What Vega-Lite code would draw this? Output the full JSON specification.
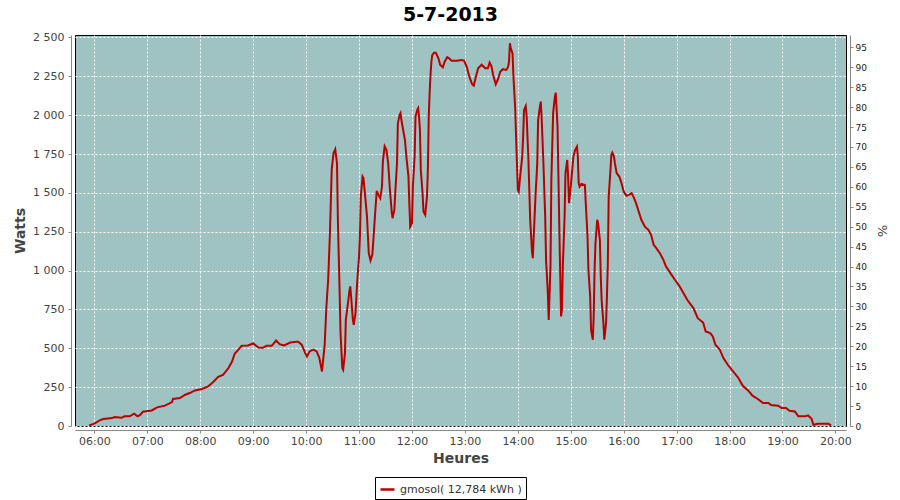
{
  "$schema": "https://vega.github.io/schema/vega-lite/v6.json",
  "width": 771,
  "height": 391,
  "autosize": "none",
  "padding": {"left": 75, "top": 35, "right": 54, "bottom": 74},
  "background": "white",
  "config": {
    "view": {"fill": "#9fc3c2", "stroke": "black", "strokeWidth": 1},
    "font": "DejaVu Sans"
  },
  "title": {"text": "5-7-2013", "font": "DejaVu Sans", "fontSize": 19, "fontWeight": "bold", "color": "black", "anchor": "middle", "offset": 6, "dx": -10},
  "layer": [
    {
      "data": {
        "values": [
          {"t": "2013-07-05T05:54", "w": 4}, {"t": "2013-07-05T06:00", "w": 15}, {"t": "2013-07-05T06:06", "w": 36}, {"t": "2013-07-05T06:10", "w": 45},
          {"t": "2013-07-05T06:20", "w": 51}, {"t": "2013-07-05T06:23", "w": 58}, {"t": "2013-07-05T06:31", "w": 53}, {"t": "2013-07-05T06:34", "w": 62},
          {"t": "2013-07-05T06:40", "w": 62}, {"t": "2013-07-05T06:45", "w": 79}, {"t": "2013-07-05T06:49", "w": 62}, {"t": "2013-07-05T06:52", "w": 71},
          {"t": "2013-07-05T06:55", "w": 92}, {"t": "2013-07-05T07:05", "w": 100}, {"t": "2013-07-05T07:11", "w": 120}, {"t": "2013-07-05T07:20", "w": 131},
          {"t": "2013-07-05T07:28", "w": 154}, {"t": "2013-07-05T07:29", "w": 174}, {"t": "2013-07-05T07:37", "w": 180}, {"t": "2013-07-05T07:43", "w": 201},
          {"t": "2013-07-05T07:48", "w": 212}, {"t": "2013-07-05T07:54", "w": 229}, {"t": "2013-07-05T08:02", "w": 238}, {"t": "2013-07-05T08:09", "w": 255},
          {"t": "2013-07-05T08:15", "w": 285}, {"t": "2013-07-05T08:20", "w": 315}, {"t": "2013-07-05T08:26", "w": 330}, {"t": "2013-07-05T08:32", "w": 373},
          {"t": "2013-07-05T08:36", "w": 415}, {"t": "2013-07-05T08:39", "w": 465}, {"t": "2013-07-05T08:43", "w": 490}, {"t": "2013-07-05T08:47", "w": 516},
          {"t": "2013-07-05T08:54", "w": 518}, {"t": "2013-07-05T09:00", "w": 531}, {"t": "2013-07-05T09:06", "w": 505}, {"t": "2013-07-05T09:11", "w": 503},
          {"t": "2013-07-05T09:15", "w": 516}, {"t": "2013-07-05T09:21", "w": 516}, {"t": "2013-07-05T09:26", "w": 550}, {"t": "2013-07-05T09:30", "w": 527},
          {"t": "2013-07-05T09:35", "w": 518}, {"t": "2013-07-05T09:42", "w": 537}, {"t": "2013-07-05T09:49", "w": 542}, {"t": "2013-07-05T09:51", "w": 542},
          {"t": "2013-07-05T09:55", "w": 523}, {"t": "2013-07-05T09:59", "w": 469}, {"t": "2013-07-05T10:01", "w": 448}, {"t": "2013-07-05T10:04", "w": 480},
          {"t": "2013-07-05T10:08", "w": 491}, {"t": "2013-07-05T10:12", "w": 480}, {"t": "2013-07-05T10:15", "w": 437}, {"t": "2013-07-05T10:18", "w": 351},
          {"t": "2013-07-05T10:21", "w": 520}, {"t": "2013-07-05T10:23", "w": 769}, {"t": "2013-07-05T10:25", "w": 941}, {"t": "2013-07-05T10:27", "w": 1241},
          {"t": "2013-07-05T10:29", "w": 1648}, {"t": "2013-07-05T10:31", "w": 1755}, {"t": "2013-07-05T10:33", "w": 1781}, {"t": "2013-07-05T10:35", "w": 1691},
          {"t": "2013-07-05T10:36", "w": 1327}, {"t": "2013-07-05T10:38", "w": 855}, {"t": "2013-07-05T10:39", "w": 598}, {"t": "2013-07-05T10:41", "w": 373},
          {"t": "2013-07-05T10:42", "w": 362}, {"t": "2013-07-05T10:44", "w": 469}, {"t": "2013-07-05T10:45", "w": 683}, {"t": "2013-07-05T10:47", "w": 769},
          {"t": "2013-07-05T10:49", "w": 866}, {"t": "2013-07-05T10:50", "w": 898}, {"t": "2013-07-05T10:51", "w": 833}, {"t": "2013-07-05T10:53", "w": 683},
          {"t": "2013-07-05T10:54", "w": 651}, {"t": "2013-07-05T10:56", "w": 727}, {"t": "2013-07-05T10:58", "w": 941}, {"t": "2013-07-05T11:00", "w": 1091},
          {"t": "2013-07-05T11:01", "w": 1219}, {"t": "2013-07-05T11:02", "w": 1476}, {"t": "2013-07-05T11:04", "w": 1605}, {"t": "2013-07-05T11:05", "w": 1595},
          {"t": "2013-07-05T11:07", "w": 1476}, {"t": "2013-07-05T11:09", "w": 1348}, {"t": "2013-07-05T11:11", "w": 1112}, {"t": "2013-07-05T11:13", "w": 1065},
          {"t": "2013-07-05T11:15", "w": 1101}, {"t": "2013-07-05T11:16", "w": 1177}, {"t": "2013-07-05T11:18", "w": 1348}, {"t": "2013-07-05T11:20", "w": 1512},
          {"t": "2013-07-05T11:22", "w": 1487}, {"t": "2013-07-05T11:24", "w": 1466}, {"t": "2013-07-05T11:26", "w": 1541}, {"t": "2013-07-05T11:27", "w": 1701},
          {"t": "2013-07-05T11:29", "w": 1800}, {"t": "2013-07-05T11:31", "w": 1777}, {"t": "2013-07-05T11:33", "w": 1691}, {"t": "2013-07-05T11:35", "w": 1519},
          {"t": "2013-07-05T11:37", "w": 1380}, {"t": "2013-07-05T11:38", "w": 1337}, {"t": "2013-07-05T11:40", "w": 1391}, {"t": "2013-07-05T11:41", "w": 1498},
          {"t": "2013-07-05T11:43", "w": 1691}, {"t": "2013-07-05T11:44", "w": 1948}, {"t": "2013-07-05T11:46", "w": 2002}, {"t": "2013-07-05T11:47", "w": 2013},
          {"t": "2013-07-05T11:48", "w": 1969}, {"t": "2013-07-05T11:50", "w": 1905}, {"t": "2013-07-05T11:52", "w": 1841}, {"t": "2013-07-05T11:54", "w": 1712},
          {"t": "2013-07-05T11:56", "w": 1605}, {"t": "2013-07-05T11:57", "w": 1434}, {"t": "2013-07-05T11:58", "w": 1283}, {"t": "2013-07-05T12:00", "w": 1305},
          {"t": "2013-07-05T12:01", "w": 1541}, {"t": "2013-07-05T12:03", "w": 1734}, {"t": "2013-07-05T12:04", "w": 1991}, {"t": "2013-07-05T12:06", "w": 2034},
          {"t": "2013-07-05T12:07", "w": 2045}, {"t": "2013-07-05T12:08", "w": 1991}, {"t": "2013-07-05T12:09", "w": 1905}, {"t": "2013-07-05T12:10", "w": 1648},
          {"t": "2013-07-05T12:12", "w": 1498}, {"t": "2013-07-05T12:13", "w": 1380}, {"t": "2013-07-05T12:15", "w": 1359}, {"t": "2013-07-05T12:17", "w": 1476},
          {"t": "2013-07-05T12:18", "w": 1648}, {"t": "2013-07-05T12:19", "w": 1991}, {"t": "2013-07-05T12:20", "w": 2141}, {"t": "2013-07-05T12:21", "w": 2259},
          {"t": "2013-07-05T12:22", "w": 2344}, {"t": "2013-07-05T12:23", "w": 2387}, {"t": "2013-07-05T12:25", "w": 2402}, {"t": "2013-07-05T12:27", "w": 2402},
          {"t": "2013-07-05T12:30", "w": 2366}, {"t": "2013-07-05T12:32", "w": 2323}, {"t": "2013-07-05T12:35", "w": 2308}, {"t": "2013-07-05T12:37", "w": 2344},
          {"t": "2013-07-05T12:40", "w": 2373}, {"t": "2013-07-05T12:42", "w": 2366}, {"t": "2013-07-05T12:45", "w": 2351}, {"t": "2013-07-05T12:51", "w": 2351},
          {"t": "2013-07-05T12:56", "w": 2355}, {"t": "2013-07-05T12:59", "w": 2351}, {"t": "2013-07-05T13:02", "w": 2312}, {"t": "2013-07-05T13:05", "w": 2248},
          {"t": "2013-07-05T13:08", "w": 2201}, {"t": "2013-07-05T13:10", "w": 2190}, {"t": "2013-07-05T13:12", "w": 2238}, {"t": "2013-07-05T13:15", "w": 2302},
          {"t": "2013-07-05T13:19", "w": 2325}, {"t": "2013-07-05T13:23", "w": 2302}, {"t": "2013-07-05T13:26", "w": 2302}, {"t": "2013-07-05T13:28", "w": 2338},
          {"t": "2013-07-05T13:30", "w": 2317}, {"t": "2013-07-05T13:32", "w": 2259}, {"t": "2013-07-05T13:35", "w": 2199}, {"t": "2013-07-05T13:38", "w": 2238},
          {"t": "2013-07-05T13:40", "w": 2280}, {"t": "2013-07-05T13:43", "w": 2296}, {"t": "2013-07-05T13:47", "w": 2291}, {"t": "2013-07-05T13:49", "w": 2312},
          {"t": "2013-07-05T13:50", "w": 2344}, {"t": "2013-07-05T13:51", "w": 2463}, {"t": "2013-07-05T13:52", "w": 2430}, {"t": "2013-07-05T13:54", "w": 2398},
          {"t": "2013-07-05T13:55", "w": 2250}, {"t": "2013-07-05T13:57", "w": 2045}, {"t": "2013-07-05T13:58", "w": 1862}, {"t": "2013-07-05T13:59", "w": 1691},
          {"t": "2013-07-05T14:00", "w": 1519}, {"t": "2013-07-05T14:01", "w": 1508}, {"t": "2013-07-05T14:03", "w": 1627}, {"t": "2013-07-05T14:05", "w": 1734},
          {"t": "2013-07-05T14:06", "w": 1862}, {"t": "2013-07-05T14:07", "w": 2034}, {"t": "2013-07-05T14:09", "w": 2059}, {"t": "2013-07-05T14:10", "w": 1991},
          {"t": "2013-07-05T14:12", "w": 1712}, {"t": "2013-07-05T14:14", "w": 1327}, {"t": "2013-07-05T14:16", "w": 1123}, {"t": "2013-07-05T14:17", "w": 1080},
          {"t": "2013-07-05T14:18", "w": 1219}, {"t": "2013-07-05T14:20", "w": 1476}, {"t": "2013-07-05T14:22", "w": 1691}, {"t": "2013-07-05T14:23", "w": 1969},
          {"t": "2013-07-05T14:25", "w": 2055}, {"t": "2013-07-05T14:26", "w": 2087}, {"t": "2013-07-05T14:27", "w": 1980}, {"t": "2013-07-05T14:29", "w": 1691},
          {"t": "2013-07-05T14:31", "w": 1348}, {"t": "2013-07-05T14:32", "w": 1069}, {"t": "2013-07-05T14:34", "w": 855}, {"t": "2013-07-05T14:35", "w": 683},
          {"t": "2013-07-05T14:37", "w": 1026}, {"t": "2013-07-05T14:38", "w": 1584}, {"t": "2013-07-05T14:40", "w": 2013}, {"t": "2013-07-05T14:42", "w": 2119},
          {"t": "2013-07-05T14:43", "w": 2145}, {"t": "2013-07-05T14:45", "w": 1926}, {"t": "2013-07-05T14:46", "w": 1605}, {"t": "2013-07-05T14:47", "w": 1283},
          {"t": "2013-07-05T14:48", "w": 984}, {"t": "2013-07-05T14:49", "w": 705}, {"t": "2013-07-05T14:50", "w": 748}, {"t": "2013-07-05T14:51", "w": 1026},
          {"t": "2013-07-05T14:53", "w": 1348}, {"t": "2013-07-05T14:54", "w": 1627}, {"t": "2013-07-05T14:56", "w": 1712}, {"t": "2013-07-05T14:57", "w": 1605},
          {"t": "2013-07-05T14:58", "w": 1434}, {"t": "2013-07-05T15:00", "w": 1541}, {"t": "2013-07-05T15:03", "w": 1734}, {"t": "2013-07-05T15:05", "w": 1777},
          {"t": "2013-07-05T15:07", "w": 1798}, {"t": "2013-07-05T15:08", "w": 1734}, {"t": "2013-07-05T15:09", "w": 1562}, {"t": "2013-07-05T15:10", "w": 1541},
          {"t": "2013-07-05T15:12", "w": 1558}, {"t": "2013-07-05T15:16", "w": 1551}, {"t": "2013-07-05T15:17", "w": 1434}, {"t": "2013-07-05T15:19", "w": 1219},
          {"t": "2013-07-05T15:20", "w": 1005}, {"t": "2013-07-05T15:22", "w": 833}, {"t": "2013-07-05T15:23", "w": 619}, {"t": "2013-07-05T15:25", "w": 555},
          {"t": "2013-07-05T15:26", "w": 705}, {"t": "2013-07-05T15:27", "w": 1005}, {"t": "2013-07-05T15:28", "w": 1177}, {"t": "2013-07-05T15:30", "w": 1327},
          {"t": "2013-07-05T15:31", "w": 1305}, {"t": "2013-07-05T15:33", "w": 1198}, {"t": "2013-07-05T15:34", "w": 962}, {"t": "2013-07-05T15:35", "w": 812},
          {"t": "2013-07-05T15:37", "w": 662}, {"t": "2013-07-05T15:38", "w": 555}, {"t": "2013-07-05T15:40", "w": 662}, {"t": "2013-07-05T15:41", "w": 833},
          {"t": "2013-07-05T15:42", "w": 1048}, {"t": "2013-07-05T15:43", "w": 1476}, {"t": "2013-07-05T15:45", "w": 1648}, {"t": "2013-07-05T15:46", "w": 1744},
          {"t": "2013-07-05T15:47", "w": 1759}, {"t": "2013-07-05T15:49", "w": 1734}, {"t": "2013-07-05T15:50", "w": 1691}, {"t": "2013-07-05T15:52", "w": 1627},
          {"t": "2013-07-05T15:55", "w": 1605}, {"t": "2013-07-05T15:57", "w": 1573}, {"t": "2013-07-05T16:00", "w": 1508}, {"t": "2013-07-05T16:03", "w": 1481},
          {"t": "2013-07-05T16:06", "w": 1487}, {"t": "2013-07-05T16:09", "w": 1498}, {"t": "2013-07-05T16:11", "w": 1476}, {"t": "2013-07-05T16:14", "w": 1434},
          {"t": "2013-07-05T16:17", "w": 1380}, {"t": "2013-07-05T16:20", "w": 1327}, {"t": "2013-07-05T16:24", "w": 1283}, {"t": "2013-07-05T16:28", "w": 1262},
          {"t": "2013-07-05T16:31", "w": 1230}, {"t": "2013-07-05T16:34", "w": 1166}, {"t": "2013-07-05T16:37", "w": 1145}, {"t": "2013-07-05T16:41", "w": 1112},
          {"t": "2013-07-05T16:45", "w": 1069}, {"t": "2013-07-05T16:48", "w": 1026}, {"t": "2013-07-05T16:53", "w": 984}, {"t": "2013-07-05T16:58", "w": 941},
          {"t": "2013-07-05T17:03", "w": 902}, {"t": "2013-07-05T17:12", "w": 812}, {"t": "2013-07-05T17:19", "w": 759}, {"t": "2013-07-05T17:24", "w": 694},
          {"t": "2013-07-05T17:30", "w": 666}, {"t": "2013-07-05T17:33", "w": 608}, {"t": "2013-07-05T17:38", "w": 598}, {"t": "2013-07-05T17:41", "w": 576},
          {"t": "2013-07-05T17:44", "w": 523}, {"t": "2013-07-05T17:49", "w": 491}, {"t": "2013-07-05T17:53", "w": 437}, {"t": "2013-07-05T17:58", "w": 394},
          {"t": "2013-07-05T18:04", "w": 351}, {"t": "2013-07-05T18:10", "w": 309}, {"t": "2013-07-05T18:15", "w": 259}, {"t": "2013-07-05T18:21", "w": 229},
          {"t": "2013-07-05T18:26", "w": 195}, {"t": "2013-07-05T18:32", "w": 174}, {"t": "2013-07-05T18:38", "w": 148}, {"t": "2013-07-05T18:44", "w": 148},
          {"t": "2013-07-05T18:47", "w": 135}, {"t": "2013-07-05T18:55", "w": 131}, {"t": "2013-07-05T18:59", "w": 116}, {"t": "2013-07-05T19:04", "w": 116},
          {"t": "2013-07-05T19:08", "w": 98}, {"t": "2013-07-05T19:14", "w": 94}, {"t": "2013-07-05T19:18", "w": 62}, {"t": "2013-07-05T19:25", "w": 62},
          {"t": "2013-07-05T19:29", "w": 68}, {"t": "2013-07-05T19:33", "w": 47}, {"t": "2013-07-05T19:35", "w": 8}, {"t": "2013-07-05T19:40", "w": 15},
          {"t": "2013-07-05T19:52", "w": 15}, {"t": "2013-07-05T19:55", "w": 4}
        ]
      },
      "mark": {"type": "line", "strokeWidth": 2, "color": "#b80000"},
      "encoding": {
        "x": {
          "field": "t", "type": "temporal",
          "scale": {"domain": [{"year": 2013, "month": 7, "date": 5, "hours": 5, "minutes": 38}, {"year": 2013, "month": 7, "date": 5, "hours": 20, "minutes": 12}]},
          "axis": {
            "format": "%H:%M",
            "values": [
              {"year": 2013, "month": 7, "date": 5, "hours": 6}, {"year": 2013, "month": 7, "date": 5, "hours": 7}, {"year": 2013, "month": 7, "date": 5, "hours": 8},
              {"year": 2013, "month": 7, "date": 5, "hours": 9}, {"year": 2013, "month": 7, "date": 5, "hours": 10}, {"year": 2013, "month": 7, "date": 5, "hours": 11},
              {"year": 2013, "month": 7, "date": 5, "hours": 12}, {"year": 2013, "month": 7, "date": 5, "hours": 13}, {"year": 2013, "month": 7, "date": 5, "hours": 14},
              {"year": 2013, "month": 7, "date": 5, "hours": 15}, {"year": 2013, "month": 7, "date": 5, "hours": 16}, {"year": 2013, "month": 7, "date": 5, "hours": 17},
              {"year": 2013, "month": 7, "date": 5, "hours": 18}, {"year": 2013, "month": 7, "date": 5, "hours": 19}, {"year": 2013, "month": 7, "date": 5, "hours": 20}
            ],
            "grid": true, "gridColor": "white", "gridDash": [2, 2], "gridOpacity": 1, "gridWidth": 1,
            "domainColor": "#888", "domainWidth": 1, "offset": 4,
            "tickColor": "#888", "tickSize": 3, "tickWidth": 1,
            "labelFont": "DejaVu Sans", "labelFontSize": 11, "labelColor": "#444", "labelPadding": 2, "labelFlush": false, "labelOverlap": false,
            "title": "Heures", "titleFont": "DejaVu Sans", "titleFontSize": 14, "titleFontWeight": "bold", "titleColor": "#444", "titlePadding": 5
          }
        },
        "y": {
          "field": "w", "type": "quantitative",
          "scale": {"domain": [0, 2516], "nice": false, "zero": true},
          "axis": {
            "values": [0, 250, 500, 750, 1000, 1250, 1500, 1750, 2000, 2250, 2500],
            "labelExpr": "replace(datum.label, ',', ' ')",
            "grid": true, "gridColor": "white", "gridDash": [2, 2], "gridOpacity": 1, "gridWidth": 1,
            "domainColor": "#888", "domainWidth": 1, "offset": 4,
            "tickColor": "#888", "tickSize": 3, "tickWidth": 1,
            "labelFont": "DejaVu Sans", "labelFontSize": 11, "labelColor": "#444", "labelPadding": 4,
            "title": "Watts", "titleFont": "DejaVu Sans", "titleFontSize": 14, "titleFontWeight": "bold", "titleColor": "#444", "titlePadding": 5
          }
        }
      }
    },
    {
      "data": {"values": [{"p": 0, "s": "gmosol( 12,784 kWh )"}]},
      "mark": {"type": "point", "opacity": 0},
      "encoding": {
        "y": {
          "field": "p", "type": "quantitative",
          "scale": {"domain": [0, 98.1], "nice": false, "zero": true},
          "axis": {
            "orient": "right",
            "values": [0, 5, 10, 15, 20, 25, 30, 35, 40, 45, 50, 55, 60, 65, 70, 75, 80, 85, 90, 95],
            "grid": false,
            "domainColor": "#888", "domainWidth": 1, "offset": 4,
            "tickColor": "#888", "tickSize": 3, "tickWidth": 1,
            "labelFont": "DejaVu Sans", "labelFontSize": 9, "labelColor": "#222", "labelPadding": 2,
            "title": "%", "titleFont": "DejaVu Sans", "titleFontSize": 13, "titleFontWeight": "normal", "titleColor": "#444", "titlePadding": 8
          }
        },
        "color": {
          "field": "s", "type": "nominal",
          "scale": {"range": ["#b80000"]},
          "legend": {
            "title": null, "orient": "none", "legendX": 300, "legendY": 442,
            "symbolType": "stroke", "symbolStrokeWidth": 2.5, "symbolSize": 196, "symbolOpacity": 1,
            "strokeColor": "black", "fillColor": "white", "padding": 4,
            "labelFont": "DejaVu Sans", "labelFontSize": 11, "labelColor": "#333", "labelOffset": 4
          }
        }
      }
    }
  ],
  "resolve": {"scale": {"y": "independent"}, "axis": {"y": "independent"}}
}
